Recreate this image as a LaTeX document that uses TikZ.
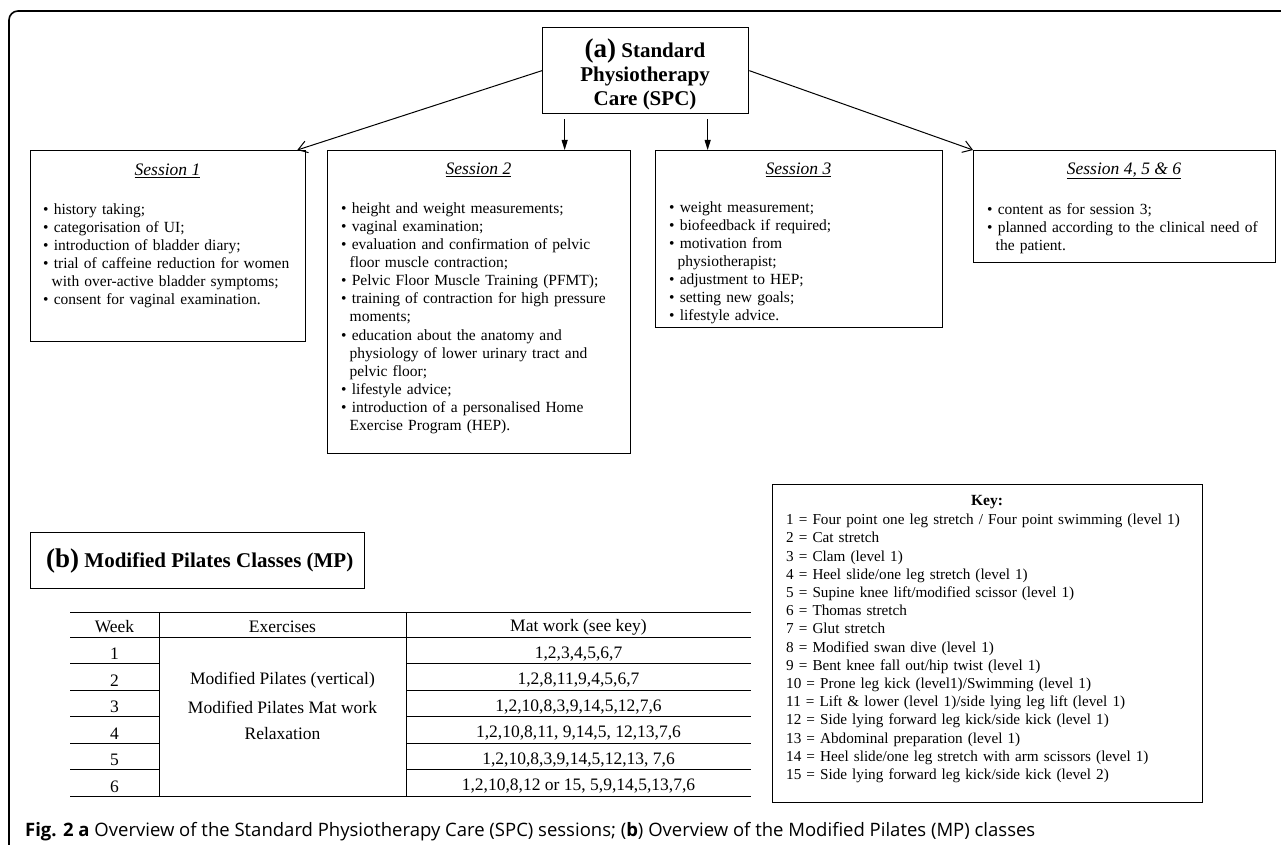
\documentclass[tikz,border=0pt]{standalone}
\usepackage{fontspec}
\setmainfont{Liberation Serif}
\newfontfamily\capfont{Open Sans}
\usetikzlibrary{arrows.meta}
\newcommand\itm[1]{\par\noindent\textbullet\ #1}
\newcommand\cnt[1]{\par\noindent\hspace*{8.5pt}#1}
\newcommand\bodyfont{\fontsize{15.5}{18.1}\selectfont}
\newcommand\ttlfont{\fontsize{17.5}{20}\selectfont\itshape}
\newcommand\hdfont{\fontsize{21}{24}\selectfont\bfseries}
\begin{document}
\begin{tikzpicture}[x=1pt,y=-1pt,
  box/.style={draw, line width=1.3pt, anchor=north west, inner sep=0pt},
  list/.style={anchor=north west, inner sep=0pt, text width=320pt, align=left, font=\bodyfont},
  ttl/.style={inner sep=0pt, font=\ttlfont},
  diag/.style={line width=1pt, -{Straight Barb[length=9pt,width=12pt,line width=1pt]}},
  vert/.style={line width=1pt, -{Triangle[length=10pt,width=6pt]}},
  cell/.style={inner sep=0pt, font=\fontsize{17.5}{19}\selectfont},
  rule/.style={line width=0.9pt}]
\useasboundingbox (0,0) rectangle (1281,845);
\clip (0,0) rectangle (1281,845);
\fill[white] (0,0) rectangle (1281,845);
\draw[line width=1.6pt, rounded corners=9pt] (9,11) rectangle (1320,890);

% ---- (a) ----
\node[box, minimum width=206pt, minimum height=86pt] (top) at (542,27) {};
\node[inner sep=0pt, align=center, font=\hdfont] (toptxt) at (645,74)
  {{\fontsize{27}{24}\selectfont(a)} Standard\\Physiotherapy\\Care (SPC)};

\node[box, minimum width=275pt, minimum height=191pt] (s1) at (30,150) {};
\node[box, minimum width=303pt, minimum height=303pt] (s2) at (327,150) {};
\node[box, minimum width=287pt, minimum height=177pt] (s3) at (655,150) {};
\node[box, minimum width=302pt, minimum height=112pt] (s4) at (973,150) {};

\node[ttl] (s1h) at (167.5,171) {\underline{Session 1}};
\node[ttl] (s2h) at (478.5,170) {\underline{Session 2}};
\node[ttl] (s3h) at (798.5,170) {\underline{Session 3}};
\node[ttl] (s4h) at (1124,171) {\underline{Session 4, 5 \& 6}};

\node[list] (s1l) at (43,196) {%
\itm{history taking;}
\itm{categorisation of UI;}
\itm{introduction of bladder diary;}
\itm{trial of caffeine reduction for women}
\cnt{with over-active bladder symptoms;}
\itm{consent for vaginal examination.}};

\node[list] (s2l) at (341,195) {%
\itm{height and weight measurements;}
\itm{vaginal examination;}
\itm{evaluation and confirmation of pelvic}
\cnt{floor muscle contraction;}
\itm{Pelvic Floor Muscle Training (PFMT);}
\itm{training of contraction for high pressure}
\cnt{moments;}
\itm{education about the anatomy and}
\cnt{physiology of lower urinary tract and}
\cnt{pelvic floor;}
\itm{lifestyle advice;}
\itm{introduction of a personalised Home}
\cnt{Exercise Program (HEP).}};

\node[list] (s3l) at (669,194) {%
\itm{weight measurement;}
\itm{biofeedback if required;}
\itm{motivation from}
\cnt{physiotherapist;}
\itm{adjustment to HEP;}
\itm{setting new goals;}
\itm{lifestyle advice.}};

\node[list] (s4l) at (987,196) {%
\itm{content as for session 3;}
\itm{planned according to the clinical need of}
\cnt{the patient.}};

\draw[diag] (top.west) -- ([xshift=-9pt]s1.north east);
\draw[diag] (top.east) -- (s4.north west);
\coordinate (v1) at ([xshift=-81pt,yshift=-5pt]top.south);
\coordinate (v2) at ([xshift=62pt,yshift=-5pt]top.south);
\draw[vert] (v1) -- (v1 |- s2.north);
\draw[vert] (v2) -- (v2 |- s3.north);

% ---- (b) ----
\node[box, minimum width=334pt, minimum height=56pt] (bbox) at (30,532) {};
\node[inner sep=0pt, anchor=west, font=\hdfont] (btxt) at (46,561)
  {{\fontsize{27}{24}\selectfont(b)} Modified Pilates Classes (MP)};

% table
\draw[rule] (70,612) -- (751,612);
\draw[rule] (70,637) -- (751,637);
\draw[rule] (70,796) -- (751,796);
\foreach \y in {663.5,690,716.5,743,769.5} {
  \draw[rule] (70,\y) -- (159,\y);
  \draw[rule] (406,\y) -- (751,\y);
}
\draw[rule] (159,612) -- (159,796);
\draw[rule] (406,612) -- (406,796);

\node[cell] (h1) at (114.5,627) {Week};
\node[cell] (h2) at (282.5,627) {Exercises};
\node[cell] (h3) at (578.5,627) {Mat work (see key)};
\node[cell] (w1) at (114.5,654) {1};
\node[cell] (w2) at (114.5,680.5) {2};
\node[cell] (w3) at (114.5,707) {3};
\node[cell] (w4) at (114.5,733.5) {4};
\node[cell] (w5) at (114.5,760) {5};
\node[cell] (w6) at (114.5,786.5) {6};
\node[cell] (e1) at (282.5,680.5) {Modified Pilates (vertical)};
\node[cell] (e2) at (282.5,707) {Modified Pilates Mat work};
\node[cell] (e3) at (282.5,733.5) {Relaxation};
\node[cell] (m1) at (578.5,654) {1,2,3,4,5,6,7};
\node[cell] (m2) at (578.5,680.5) {1,2,8,11,9,4,5,6,7};
\node[cell] (m3) at (578.5,707) {1,2,10,8,3,9,14,5,12,7,6};
\node[cell] (m4) at (578.5,733.5) {1,2,10,8,11, 9,14,5, 12,13,7,6};
\node[cell] (m5) at (578.5,760) {1,2,10,8,3,9,14,5,12,13, 7,6};
\node[cell] (m6) at (578.5,786.5) {1,2,10,8,12 or 15, 5,9,14,5,13,7,6};

% key
\node[box, minimum width=430pt, minimum height=318pt] (key) at (772,484) {};
\node[inner sep=0pt, font=\bodyfont\bfseries] (keyh) at (987,502) {Key:};
\node[list, text width=410pt, font=\fontsize{15.2}{18.2}\selectfont] (keyl) at (786,514) {%
1 = Four point one leg stretch / Four point swimming (level 1)\\
2 = Cat stretch\\
3 = Clam (level 1)\\
4 = Heel slide/one leg stretch (level 1)\\
5 = Supine knee lift/modified scissor (level 1)\\
6 = Thomas stretch\\
7 = Glut stretch\\
8 = Modified swan dive (level 1)\\
9 = Bent knee fall out/hip twist (level 1)\\
10 = Prone leg kick (level1)/Swimming (level 1)\\
11 = Lift \& lower (level 1)/side lying leg lift (level 1)\\
12 = Side lying forward leg kick/side kick (level 1)\\
13 = Abdominal preparation (level 1)\\
14 = Heel slide/one leg stretch with arm scissors (level 1)\\
15 = Side lying forward leg kick/side kick (level 2)};

% caption
\node[inner sep=0pt, anchor=base west, font=\capfont\fontsize{18.5}{20}\selectfont] (cap) at (25,836)
  {\textbf{Fig. 2 a} Overview of the Standard Physiotherapy Care (SPC) sessions; (\textbf{b}) Overview of the Modified Pilates (MP) classes};
\end{tikzpicture}
\end{document}
